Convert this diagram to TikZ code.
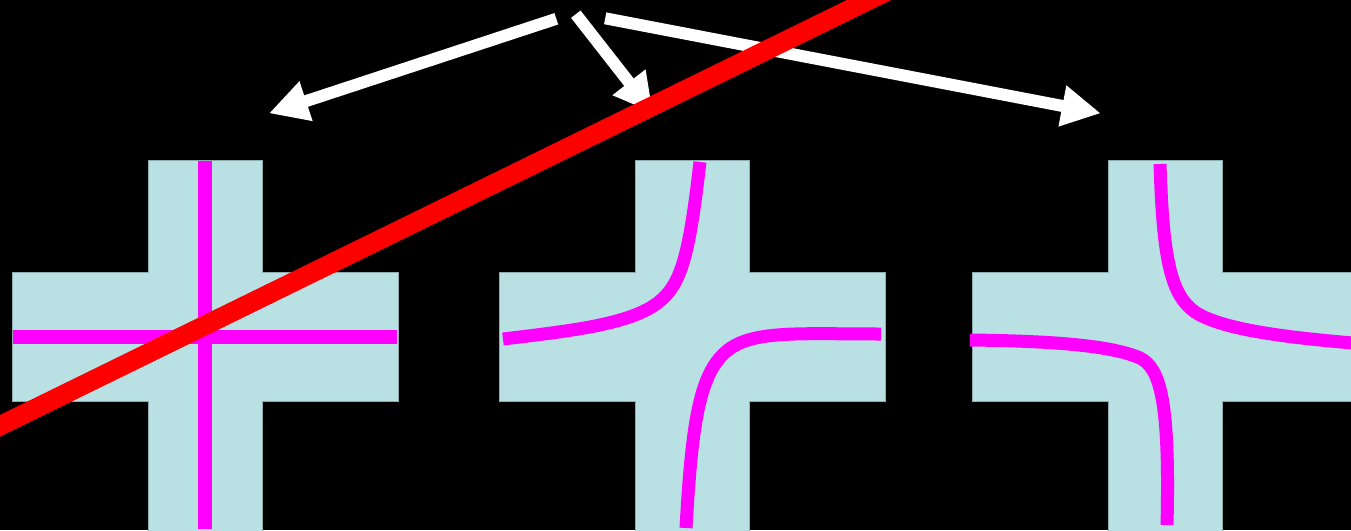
\documentclass[tikz,border=0pt]{standalone}
\usetikzlibrary{arrows.meta}
\definecolor{padblue}{RGB}{185,224,227}
\definecolor{padedge}{RGB}{140,172,175}
\definecolor{trace}{RGB}{255,0,255}
\definecolor{cutline}{RGB}{255,0,0}
\tikzset{
  pad/.style={fill=padblue, draw=padedge, line width=0.7pt},
  wire/.style={draw=trace, line width=13pt},
  straightwire/.style={draw=trace, line width=14pt},
  pointer/.style={draw=white, line width=12pt, -{Triangle[length=39pt,width=39pt]}},
  slash/.style={draw=cutline, line width=19.5pt},
}
\newcommand{\crosspad}[1]{%
  \path[pad] (#1-57,160) -- (#1+57,160) -- (#1+57,272) -- (#1+193,272) -- (#1+193,401.7)
    -- (#1+57,401.7) -- (#1+57,540) -- (#1-57,540) -- (#1-57,401.7) -- (#1-193,401.7)
    -- (#1-193,272) -- (#1-57,272) -- cycle;}
\begin{document}
\begin{tikzpicture}[x=1pt,y=-1pt]
\useasboundingbox (0,0) rectangle (1351,530);
\fill[black] (0,0) rectangle (1351,530);
\clip (0,0) rectangle (1351,530);
% pads
\crosspad{205}
\crosspad{692}
\crosspad{1165}
% traces, crossing
\path[straightwire] (205,161) -- (205,529);
\path[straightwire] (13,337) -- (397,337);
% traces, bent (middle)
\path[wire] (700,162) .. controls (688,265) and (680,290) .. (650,308)
  .. controls (620,325) and (570,331) .. (503,339);
\path[wire] (686,528) .. controls (692,420) and (700,372) .. (728,350)
  .. controls (754,330) and (800,334) .. (881,334);
% traces, bent (right)
\path[wire] (1160,164) .. controls (1163,260) and (1171,295) .. (1195,312)
  .. controls (1222,330) and (1290,338) .. (1365,344);
\path[wire] (970,340) .. controls (1050,341) and (1110,345) .. (1140,358)
  .. controls (1160,368) and (1170,400) .. (1167,525);
% arrows
\coordinate (a1s) at (556.3,18.8);
\coordinate (a1e) at (269,113.3);
\coordinate (a2s) at (575.8,14.2);
\coordinate (a2e) at (653,113);
\coordinate (a3s) at (605.2,18.3);
\coordinate (a3e) at (1100.7,113.3);
\draw[pointer] (a1s) -- (a1e);
\draw[pointer] (a2s) -- (a2e);
\draw[pointer] (a3s) -- (a3e);
% red strike line
\coordinate (r1) at (-30,440.5);
\coordinate (r2) at (910,-20.1);
\draw[slash] (r1) -- (r2);
\end{tikzpicture}
\end{document}
